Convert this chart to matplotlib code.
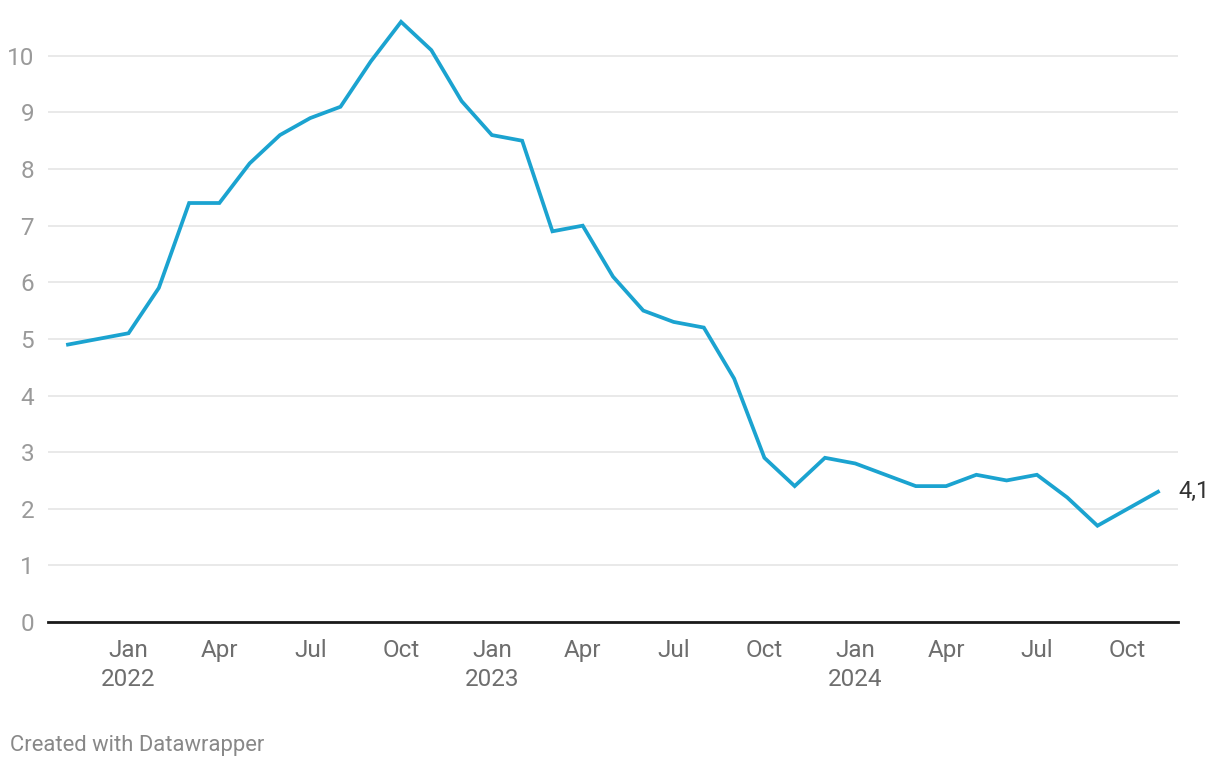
import matplotlib.pyplot as plt

plt.rcParams['font.family'] = ['Roboto', 'DejaVu Sans']

# monthly values, Nov 2021 .. Nov 2024
months = ['2021-11', '2021-12',
          '2022-01', '2022-02', '2022-03', '2022-04', '2022-05', '2022-06',
          '2022-07', '2022-08', '2022-09', '2022-10', '2022-11', '2022-12',
          '2023-01', '2023-02', '2023-03', '2023-04', '2023-05', '2023-06',
          '2023-07', '2023-08', '2023-09', '2023-10', '2023-11', '2023-12',
          '2024-01', '2024-02', '2024-03', '2024-04', '2024-05', '2024-06',
          '2024-07', '2024-08', '2024-09', '2024-10', '2024-11']
values = [4.9, 5.0,
          5.1, 5.9, 7.4, 7.4, 8.1, 8.6,
          8.9, 9.1, 9.9, 10.6, 10.1, 9.2,
          8.6, 8.5, 6.9, 7.0, 6.1, 5.5,
          5.3, 5.2, 4.3, 2.9, 2.4, 2.9,
          2.8, 2.6, 2.4, 2.4, 2.6, 2.5,
          2.6, 2.2, 1.7, 2.0, 2.3]
end_label = '4,1'

tick_months = ['2022-01', '2022-04', '2022-07', '2022-10',
               '2023-01', '2023-04', '2023-07', '2023-10',
               '2024-01', '2024-04', '2024-07', '2024-10']
tick_labels = ['Jan\n2022', 'Apr', 'Jul', 'Oct',
               'Jan\n2023', 'Apr', 'Jul', 'Oct',
               'Jan\n2024', 'Apr', 'Jul', 'Oct']

x = list(range(len(months)))
tick_pos = [months.index(m) for m in tick_months]

fig = plt.figure(figsize=(12.2, 7.68), dpi=100)
ax = fig.add_axes([48 / 1220, 1 - 622 / 768, 1130 / 1220, 603 / 768])

ax.plot(x, values, color='#1ba3d0', lw=2.7, solid_joinstyle='miter', zorder=3)
ax.text(x[-1] + 0.66, values[-1], end_label, fontsize=17, color='#333333',
        va='center', ha='left')

ax.set_xlim(-0.66, len(months) - 1 + 0.66)
ax.set_ylim(0, 10.65)
ax.set_yticks(range(0, 11))
ax.set_xticks(tick_pos)
ax.set_xticklabels(tick_labels)

ax.grid(axis='y', color='#e3e3e3', lw=1.1)
ax.set_axisbelow(True)
for s in ['top', 'right', 'left']:
    ax.spines[s].set_visible(False)
ax.spines['bottom'].set_color('#1a1a1a')
ax.spines['bottom'].set_linewidth(2.0)
ax.spines['bottom'].set_zorder(4)

ax.tick_params(axis='y', length=0, pad=10, labelsize=17.5, labelcolor='#9a9a9a')
ax.tick_params(axis='x', length=0, pad=12, labelsize=17.5, labelcolor='#6e6e6e')
for t in ax.get_xticklabels():
    t.set_linespacing(1.35)

fig.text(10 / 1220, 1 - 745 / 768, 'Created with Datawrapper', fontsize=15.8,
         color='#888888', va='center', ha='left')

fig.savefig('out.png', dpi=100)
